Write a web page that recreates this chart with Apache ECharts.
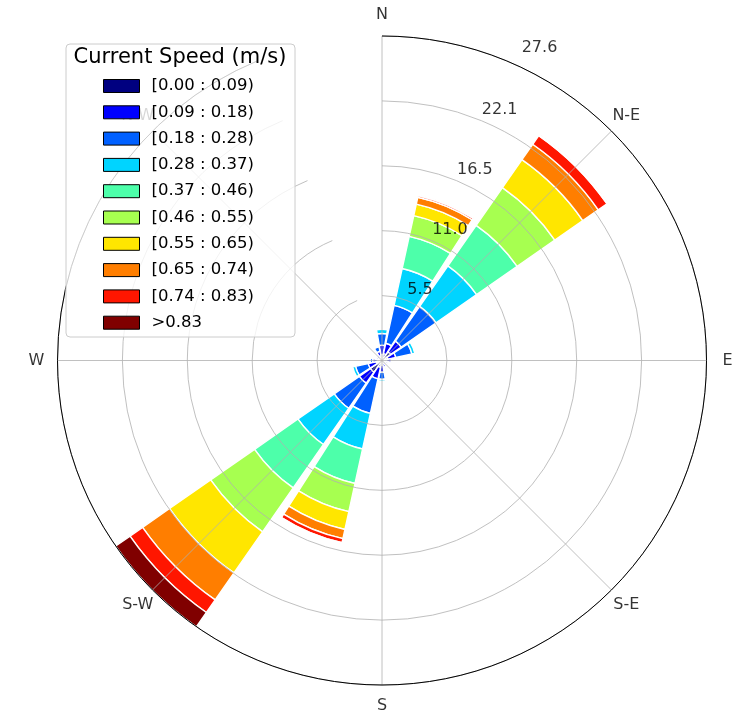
<!DOCTYPE html>
<html>
<head>
<meta charset="utf-8">
<script src="https://cdn.jsdelivr.net/npm/echarts@6/dist/echarts.min.js"></script>
<style>
  html, body { margin: 0; padding: 0; background: #fff; }
  #chart { width: 743px; height: 715px; }
</style>
</head>
<body>
<div id="chart"></div>
<script>
// Sixteen compass sectors, clockwise from north
const directions = ['N', 'NNE', 'NE', 'ENE', 'E', 'ESE', 'SE', 'SSE',
                    'S', 'SSW', 'SW', 'WSW', 'W', 'WNW', 'NW', 'NNW'];

// Compass labels shown every second sector
const compassLabels = ['N', 'N-E', 'E', 'S-E', 'S', 'S-W', 'W', 'N-W'];

// Current speed classes (m/s)
const speedBins = ['[0.00 : 0.09)', '[0.09 : 0.18)', '[0.18 : 0.28)', '[0.28 : 0.37)',
                   '[0.37 : 0.46)', '[0.46 : 0.55)', '[0.55 : 0.65)', '[0.65 : 0.74)',
                   '[0.74 : 0.83)', '>0.83'];

// Radial grid labels (frequency, %)
const radialTickLabels = ['5.5', '11.0', '16.5', '22.1', '27.6'];

// Frequency (%) of each speed class per direction, N .. NNW
const bin0 = [0.5, 0.6, 0.9, 0.5, 0.4, 0.3, 0.3, 0.3, 0.4, 0.6, 1.2, 0.5, 0.4, 0.3, 0.3, 0.4];
const bin1 = [0.8, 0.9, 1.1, 0.7, 0.4, 0.2, 0.1, 0.3, 0.6, 1.0, 1.15, 0.7, 0.4, 0.2, 0.2, 0.4];
const bin2 = [1.0, 3.3, 3.6, 1.4, 0.1, 0, 0, 0.1, 0.6, 3.0, 2.6, 1.1, 0.2, 0, 0, 0.4];
const bin3 = [0.35, 3.2, 4.2, 0.25, 0, 0, 0, 0, 0.15, 3.1, 3.75, 0.25, 0, 0, 0, 0];
const bin4 = [0, 2.8, 4.2, 0, 0, 0, 0, 0, 0, 3.0, 4.5, 0, 0, 0, 0, 0];
const bin5 = [0, 1.8, 3.9, 0, 0, 0, 0, 0, 0, 2.45, 4.55, 0, 0, 0, 0, 0];
const bin6 = [0, 1.0, 2.9, 0, 0, 0, 0, 0, 0, 1.55, 4.25, 0, 0, 0, 0, 0];
const bin7 = [0, 0.6, 1.6, 0, 0, 0, 0, 0, 0, 0.8, 2.8, 0, 0, 0, 0, 0];
const bin8 = [0, 0.15, 0.9, 0, 0, 0, 0, 0, 0, 0.35, 1.3, 0, 0, 0, 0, 0];
const bin9 = [0, 0.05, 0.1, 0, 0, 0, 0, 0, 0, 0.1, 1.475, 0, 0, 0, 0, 0];

// jet colour map sampled at ten levels
const binColors = ['#000080', '#0000ff', '#0060ff', '#00d4ff', '#4dffaa',
                   '#a7ff50', '#ffe600', '#ff7e00', '#ff1600', '#800000'];

const binValues = [bin0, bin1, bin2, bin3, bin4, bin5, bin6, bin7, bin8, bin9];

// Outer ring = largest total frequency over all directions
const totals = directions.map((d, i) => binValues.reduce((s, b) => s + b[i], 0));
const rMax = Math.max.apply(null, totals);
const rStep = rMax / radialTickLabels.length;

const FONT = 'DejaVu Sans';
const OUTER_PX = 324.5;
const COMPASS_PX = 345.5;   // centre of the compass labels from the pole

const barSeries = speedBins.map((name, k) => ({
  type: 'bar',
  coordinateSystem: 'polar',
  name: name,
  stack: 'freq',
  barWidth: '90%',
  data: binValues[k].map(v => (v > 0 ? v : '-')),
  itemStyle: { color: binColors[k], borderColor: '#ffffff', borderWidth: 1.4 },
  silent: true,
  z: 2
}));

// Radial grid labels, placed along the NNE ray
const tickSeries = {
  type: 'scatter',
  coordinateSystem: 'polar',
  silent: true,
  clip: false,
  symbol: 'circle',
  symbolSize: 1,
  itemStyle: { color: 'transparent' },
  z: 5,
  data: radialTickLabels.map((t, i) => ({
    value: [rStep * (i + 1), 'NNE'],
    label: i === radialTickLabels.length - 1 ? { position: [16, -4] } : undefined
  })),
  label: {
    show: true,
    position: [1, -2],
    align: 'left',
    verticalAlign: 'bottom',
    fontFamily: FONT,
    fontSize: 16,
    color: '#000',
    formatter: p => radialTickLabels[p.dataIndex]
  }
};

// Compass labels, centred just outside the outer ring
const compassSeries = {
  type: 'scatter',
  coordinateSystem: 'polar',
  silent: true,
  clip: false,
  symbol: 'circle',
  symbolSize: 1,
  itemStyle: { color: 'transparent' },
  z: 5,
  data: compassLabels.map((t, i) => [rMax * COMPASS_PX / OUTER_PX, directions[i * 2]]),
  label: {
    show: true,
    position: 'inside',
    align: 'center',
    verticalAlign: 'middle',
    fontFamily: FONT,
    fontSize: 16,
    color: '#000',
    formatter: p => compassLabels[p.dataIndex]
  }
};

const chart = echarts.init(document.getElementById('chart'), null, { renderer: 'canvas' });

chart.setOption({
  backgroundColor: '#ffffff',
  animation: false,
  polar: { center: [382, 360.5], radius: OUTER_PX },
  angleAxis: {
    type: 'category',
    data: directions,
    startAngle: 90,
    clockwise: true,
    boundaryGap: false,
    z: 3,
    axisLine: { show: true, lineStyle: { color: '#000', width: 1 } },
    axisTick: { show: false, interval: 1 },
    axisLabel: { show: false, interval: 1 },
    splitLine: { show: true, interval: 1, lineStyle: { color: '#b0b0b0', width: 0.8 } }
  },
  radiusAxis: {
    type: 'value',
    min: 0,
    max: rMax,
    interval: rStep,
    z: 3,
    axisLine: { show: false },
    axisTick: { show: false },
    axisLabel: { show: false },
    splitLine: { show: true, lineStyle: { color: '#b0b0b0', width: 0.8 } }
  },
  legend: {
    data: speedBins,
    orient: 'vertical',
    left: 103,
    top: 77,
    padding: 0,
    itemWidth: 36,
    itemHeight: 13,
    itemGap: 8.3,
    icon: 'rect',
    selectedMode: false,
    z: 11,
    itemStyle: { borderColor: '#000', borderWidth: 1 },
    textStyle: {
      fontFamily: FONT,
      fontSize: 16.5,
      lineHeight: 18,
      color: '#000',
      padding: [0, 0, 0, 7]
    }
  },
  graphic: [
    {
      type: 'rect',
      z: 10,
      shape: { x: 66, y: 44, width: 229, height: 293, r: 4 },
      style: { fill: 'rgba(255,255,255,0.8)', stroke: '#cccccc', lineWidth: 1 }
    },
    {
      type: 'text',
      z: 11,
      x: 180,
      y: 58,
      style: {
        text: 'Current Speed (m/s)',
        fontFamily: FONT,
        fontSize: 21,
        fill: '#000',
        align: 'center',
        verticalAlign: 'middle'
      }
    }
  ],
  series: barSeries.concat([tickSeries, compassSeries])
});
</script>
</body>
</html>
